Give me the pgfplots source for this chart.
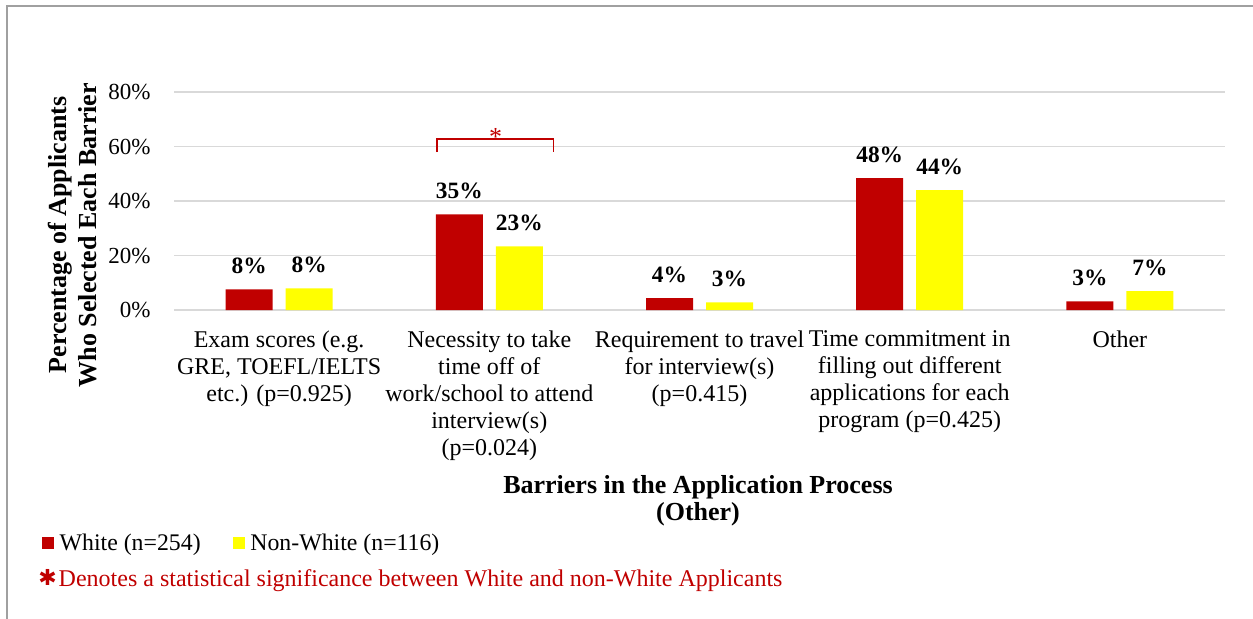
\documentclass[border=0pt]{standalone}
\usepackage{fontspec}
\setmainfont{Liberation Serif}
\newfontfamily\symbolfont{DejaVu Sans}
\usepackage{pgfplots}
\usepackage{pgfplotstable}
\pgfplotsset{compat=1.18}

\definecolor{wred}{HTML}{C00000}
\definecolor{nwyellow}{HTML}{FFFF00}
\definecolor{gridgray}{HTML}{D9D9D9}
\definecolor{framegray}{HTML}{A0A0A0}

% share of applicants (%) naming each barrier
\pgfplotstableread{
x white nonwhite
0 7.6  7.9
1 35.1 23.4
2 4.4  2.8
3 48.4 44.0
4 3.2  6.9
}\barriers

\begin{document}
\begin{tikzpicture}
\useasboundingbox (0,0) rectangle (626.5pt,-309pt);
\begin{axis}[
  at={(87pt,-155pt)}, anchor=south west,
  scale only axis, width=525.5pt, height=109pt,
  xmin=-0.5, xmax=4.5, ymin=0, ymax=80,
  ybar=6.5pt, bar width=23.5pt,
  axis line style={draw=none},
  major tick length=0pt,
  ytick={0,20,40,60,80},
  yticklabels={0\%,20\%,40\%,60\%,80\%},
  xtick={0,1,2,3,4},
  xticklabels={
    {Exam scores (e.g.\\GRE, TOEFL/IELTS\\etc.) (p=0.925)},
    {Necessity to take\\time off of\\work/school to attend\\interview(s)\\(p=0.024)},
    {Requirement to travel\\for interview(s)\\(p=0.415)},
    {Time commitment in\\filling out different\\applications for each\\program (p=0.425)},
    {Other}},
  ymajorgrids, grid style={gridgray, line width=0.75pt},
  tick label style={font=\fontsize{11.5}{13.5}\selectfont},
  yticklabel style={inner sep=0pt, xshift=-11.5pt},
  xticklabel style={align=center, inner sep=0pt, yshift=-10pt,
    font=\fontsize{12}{13.5}\selectfont},
  /pgf/number format/assume math mode=true,
  nodes near coords={\pgfmathprintnumber[fixed,precision=0]{\pgfplotspointmeta}\%},
  every node near coord/.append style={font=\bfseries\fontsize{11.7}{13}\selectfont,
    anchor=south, inner sep=0pt, yshift=7.5pt, text=black},
  clip=false,
]
\addplot[fill=wred, draw=none] table[x=x, y=white]{\barriers};
\addplot[fill=nwyellow, draw=none] table[x=x, y=nonwhite]{\barriers};
\end{axis}

\begin{scope}[x=0.5pt, y=-0.5pt]
  % outer frame
  \draw[framegray, line width=0.9pt] (7,640) -- (7,6) -- (1270,6);
  % axis titles
  \node[rotate=90, align=center, font=\bfseries\fontsize{13}{15}\selectfont]
    at (73,235) {Percentage of Applicants\\Who Selected Each Barrier};
  \node[anchor=base, inner sep=0pt, font=\bfseries\fontsize{13}{15}\selectfont]
    at (698,493.3) {Barriers in the Application Process};
  \node[anchor=base, inner sep=0pt, font=\bfseries\fontsize{13}{15}\selectfont]
    at (698,520.5) {(Other)};
  % significance bracket
  \draw[wred, line width=0.6pt] (437,152) -- (437,139) -- (553.7,139) -- (553.7,152);
  \node[anchor=base, inner sep=0pt, text=wred, font=\fontsize{13}{14}\selectfont]
    at (495.7,145) {*};
  % legend
  \fill[wred] (42,537) rectangle (54,549);
  \node[anchor=base west, inner sep=0pt, font=\fontsize{11.9}{14}\selectfont]
    at (59.3,550) {White (n=254)};
  \fill[nwyellow] (233.3,537) rectangle (245,549);
  \node[anchor=base west, inner sep=0pt, font=\fontsize{11.9}{14}\selectfont]
    at (250,550) {Non-White (n=116)};
  % footnote
  \node[inner sep=0pt, text=wred, font=\symbolfont\fontsize{11}{13}\selectfont]
    at (47.5,577.5) {✱};
  \node[anchor=base west, inner sep=0pt, text=wred, font=\fontsize{12}{14}\selectfont]
    at (58.3,586.7) {Denotes a statistical significance between White and non-White Applicants};
\end{scope}
\end{tikzpicture}
\end{document}
